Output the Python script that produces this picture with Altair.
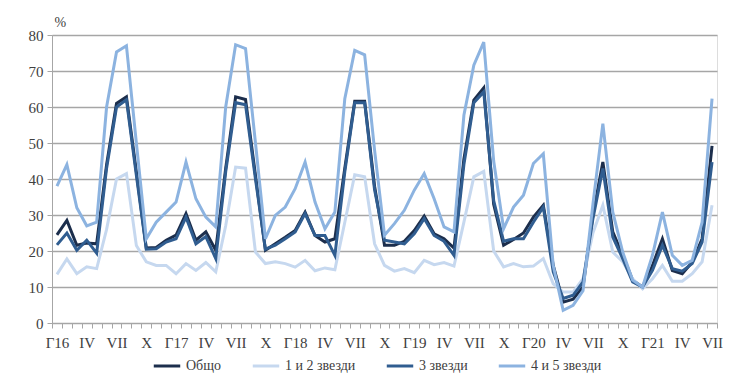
import altair as alt
import pandas as pd

series_names = ["Общо", "1 и 2 звезди", "3 звезди", "4 и 5 звезди"]
series_colors = ["#1c2e4c", "#c6d8ef", "#305d90", "#8cb3e0"]

tick_labels = ["Г16", "IV", "VII", "X", "Г17", "IV", "VII", "X", "Г18", "IV", "VII", "X",
               "Г19", "IV", "VII", "X", "Г20", "IV", "VII", "X", "Г21", "IV", "VII"]

obshto = [24.5, 28.5, 21.6, 22.2, 22.0, 44.0, 61.0, 62.8, 42.0, 20.8, 21.0, 23.0,
          24.4, 30.4, 23.0, 25.3, 20.2, 43.0, 62.8, 62.1, 41.0, 20.2, 22.0, 23.8,
          25.7, 30.8, 24.3, 22.5, 23.4, 43.0, 61.6, 61.6, 38.0, 21.6, 21.6, 22.7,
          25.7, 29.7, 24.8, 23.4, 20.8, 45.6, 61.9, 65.3, 33.0, 21.6, 23.2, 25.0,
          29.4, 32.7, 16.0, 5.8, 6.6, 10.0, 30.0, 44.7, 25.3, 18.8, 11.9, 10.0,
          16.0, 23.4, 14.6, 13.7, 16.9, 23.4, 49.2]
stars12 = [13.5, 17.8, 13.7, 15.6, 15.1, 26.0, 40.0, 41.5, 21.5, 17.0, 16.0, 16.0,
           13.7, 16.5, 14.6, 16.8, 14.2, 27.0, 43.3, 43.0, 19.7, 16.5, 17.0, 16.5,
           15.5, 17.4, 14.5, 15.3, 14.8, 28.0, 41.2, 40.6, 22.0, 16.0, 14.4, 15.1,
           14.0, 17.4, 16.2, 16.8, 15.8, 28.0, 40.6, 42.1, 20.0, 15.6, 16.5, 15.6,
           15.8, 17.9, 10.9, 8.6, 8.6, 12.3, 25.0, 32.7, 19.7, 17.0, 12.3, 9.5,
           12.3, 16.0, 11.6, 11.6, 13.7, 17.0, 32.7]
stars3 = [21.7, 25.0, 20.2, 23.0, 19.4, 43.0, 60.0, 62.0, 41.0, 20.5, 20.6, 22.5,
          23.4, 29.4, 22.0, 24.0, 17.9, 42.0, 61.2, 60.6, 40.0, 20.5, 21.6, 23.4,
          25.3, 30.4, 24.3, 24.3, 18.8, 42.0, 61.2, 61.2, 37.0, 23.0, 22.5, 22.0,
          24.8, 29.0, 24.3, 22.7, 18.8, 44.0, 61.2, 64.2, 34.0, 22.7, 23.4, 23.4,
          28.0, 32.2, 14.2, 6.8, 7.7, 11.4, 29.0, 42.9, 23.9, 17.9, 11.4, 10.0,
          14.6, 21.6, 15.1, 14.4, 16.5, 22.5, 44.7]
stars45 = [38.0, 44.0, 32.0, 27.0, 28.0, 60.0, 75.3, 77.0, 50.0, 23.4, 28.0, 30.8,
           33.6, 44.7, 34.5, 29.4, 26.7, 60.0, 77.3, 76.2, 50.0, 23.4, 29.9, 32.2,
           37.3, 44.7, 33.6, 26.2, 30.8, 62.3, 75.7, 74.5, 48.0, 24.4, 27.6, 31.3,
           36.9, 41.5, 34.5, 26.7, 25.3, 57.7, 71.6, 78.0, 45.0, 26.2, 32.2, 35.5,
           44.3, 47.0, 16.0, 3.5, 4.9, 9.0, 33.0, 55.4, 30.8, 19.7, 11.9, 10.0,
           18.8, 30.8, 18.8, 16.0, 17.4, 28.0, 62.3]

n = len(obshto)
month_labels = []
for i in range(n):
    month_labels.append(tick_labels[i // 3] if i % 3 == 0 else "")

rows = []
for name, vals in zip(series_names, [obshto, stars12, stars3, stars45]):
    for i, v in enumerate(vals):
        rows.append({"idx": i, "series": name, "value": v})
df = pd.DataFrame(rows)

label_expr = "[" + ",".join("'" + l + "'" for l in month_labels) + "][datum.value]"

font = "Liberation Serif"
txt = "#404040"
grey = "#a6a6a6"

chart = alt.Chart(df).mark_line(strokeWidth=3).encode(
    x=alt.X("idx:O", bandPosition=0.5,
            scale=alt.Scale(type="band", paddingInner=0, paddingOuter=0),
            axis=alt.Axis(title=None, labelExpr=label_expr, tickBand="extent",
                          labelAngle=0, domainColor=grey, tickColor=grey,
                          tickSize=5, labelPadding=7, grid=False,
                          labelFontSize=15, labelColor=txt, labelFont=font,
                          labelOverlap=False)),
    y=alt.Y("value:Q", scale=alt.Scale(domain=[0, 80]),
            axis=alt.Axis(values=[0, 10, 20, 30, 40, 50, 60, 70, 80], title="%",
                          titleAngle=0, titleAlign="left", titleBaseline="bottom",
                          titleX=2, titleY=-6, titleFont=font, titleFontSize=14,
                          titleFontWeight="normal", titleColor=txt,
                          domainColor=grey, tickColor=grey, tickSize=5,
                          labelPadding=4, labelFont=font, labelFontSize=15,
                          labelColor=txt, gridColor=grey, gridWidth=1.5)),
    color=alt.Color("series:N",
                    scale=alt.Scale(domain=series_names, range=series_colors),
                    sort=series_names,
                    legend=alt.Legend(title=None, orient="none", direction="horizontal",
                                      legendX=100, legendY=316,
                                      symbolType="stroke", symbolStrokeWidth=3,
                                      symbolSize=700, columnPadding=24,
                                      labelFont=font, labelFontSize=14,
                                      labelColor=txt)),
    order=alt.Order("series:N"),
).properties(
    width=665, height=288,
    autosize=alt.AutoSizeParams(type="none"),
    padding={"left": 44, "top": 27, "right": 15, "bottom": 57},
).configure_view(stroke=None).configure(background="white")

chart.save("out.html", embed_options={"renderer": "svg", "actions": False})
